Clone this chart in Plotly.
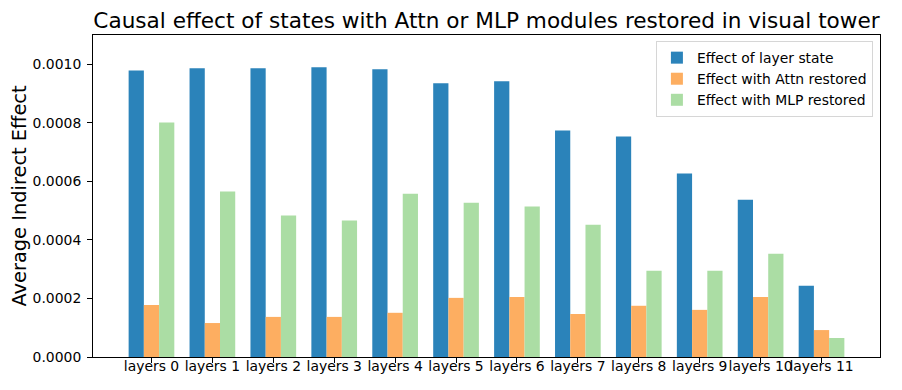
import plotly.graph_objects as go

# --- data ---
layers = [f"layers {i}" for i in range(12)]
layer_state = [0.000979, 0.000986, 0.000986, 0.000990, 0.000983, 0.000935,
               0.000942, 0.000774, 0.000753, 0.000627, 0.000537, 0.000243]
attn_restored = [0.000178, 0.000116, 0.000137, 0.000137, 0.000151, 0.000202,
                 0.000205, 0.000147, 0.000175, 0.000161, 0.000205, 0.000092]
mlp_restored = [0.000801, 0.000565, 0.000483, 0.000466, 0.000558, 0.000527,
                0.000514, 0.000452, 0.000295, 0.000295, 0.000353, 0.000065]
y_ticks = [0.0, 0.0002, 0.0004, 0.0006, 0.0008, 0.0010]

font = "DejaVu Sans"
fs = 13.9  # 10pt at 100 dpi

fig = go.Figure()
fig.add_trace(go.Bar(x=layers, y=layer_state, name="Effect of layer state",
                     marker_color="#2b83ba", marker_line_width=0))
fig.add_trace(go.Bar(x=layers, y=attn_restored, name="Effect with Attn restored",
                     marker_color="#fdae61", marker_line_width=0))
fig.add_trace(go.Bar(x=layers, y=mlp_restored, name="Effect with MLP restored",
                     marker_color="#abdda4", marker_line_width=0))

# page body has an 8px margin, so the figure is a little smaller than the window
fig.update_layout(
    width=894, height=382,
    margin=dict(l=85, r=22, t=27, b=33),
    paper_bgcolor="white", plot_bgcolor="white",
    barmode="group", bargap=0.25, bargroupgap=0,
    font=dict(family=font, size=fs, color="black"),
    title=dict(text="Causal effect of states with Attn or MLP modules restored in visual tower",
               x=0.5, xref="paper", xanchor="center", y=0.968, yanchor="middle",
               font=dict(family=font, size=21.6, color="black")),
    legend=dict(x=0.991, y=0.981, xanchor="right", yanchor="top",
                bgcolor="rgba(255,255,255,0.8)", bordercolor="#d6d6d6", borderwidth=1,
                font=dict(family=font, size=fs), tracegroupgap=0),
    showlegend=True,
)
fig.update_xaxes(
    range=[-0.96, 11.96], showline=True, linecolor="black", linewidth=1, mirror=True,
    ticks="outside", ticklen=5, tickcolor="black", showgrid=False,
    tickfont=dict(family=font, size=fs), ticklabelstandoff=-9,
    tickangle=0, automargin=False,
)
fig.update_yaxes(
    range=[0, 0.0011], tickvals=y_ticks, tickformat=".4f",
    showline=True, linecolor="black", linewidth=1, mirror=True,
    ticks="outside", ticklen=5, tickcolor="black", showgrid=False, zeroline=False,
    tickfont=dict(family=font, size=fs), ticklabelstandoff=3, automargin=False,
    title=dict(text="Average Indirect Effect", font=dict(family=font, size=19.4), standoff=11),
)

fig.write_html("out.html")
